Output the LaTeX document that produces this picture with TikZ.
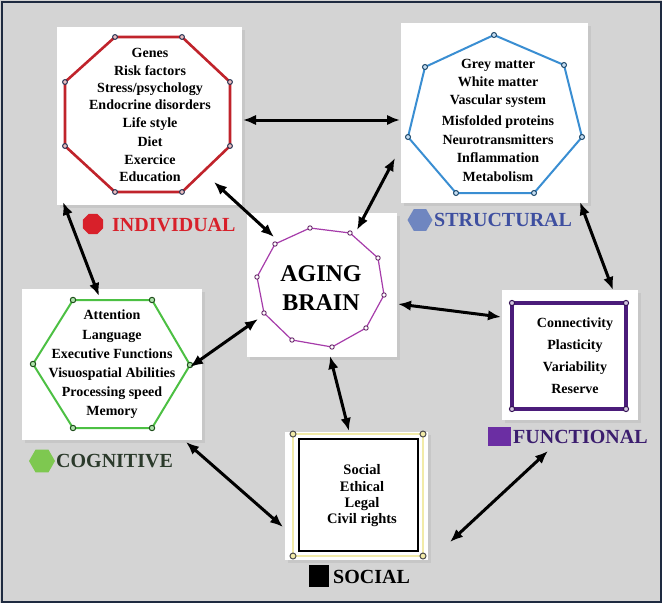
\documentclass[tikz,border=0pt]{standalone}
\usepackage{fontspec}
\setmainfont{Liberation Serif}
\usetikzlibrary{arrows.meta,shapes.geometric,shadows}
\definecolor{bg}{HTML}{D4D4D4}
\definecolor{framec}{HTML}{1E2A40}
\definecolor{indc}{HTML}{C0232B}
\definecolor{indl}{HTML}{D8202A}
\definecolor{strc}{HTML}{3A8ED2}
\definecolor{strl}{HTML}{3E4FA0}
\definecolor{stri}{HTML}{6F86C0}
\definecolor{agec}{HTML}{A63CAA}
\definecolor{cogc}{HTML}{4CC043}
\definecolor{cogi}{HTML}{7EC850}
\definecolor{cogl}{HTML}{2B3A2B}
\definecolor{func}{HTML}{4B1C7A}
\definecolor{funi}{HTML}{6B2EA3}
\definecolor{funl}{HTML}{3B1D6E}
\definecolor{socy}{HTML}{F2EBA8}
\definecolor{dotc}{HTML}{1F2F4F}
\begin{document}
\begin{tikzpicture}[x=1pt,y=-1pt,
  panel/.style={draw=none,fill=white,inner sep=0pt,
    drop shadow={shadow xshift=2.5pt,shadow yshift=-2.5pt,fill=black!22,opacity=1}},
  listtext/.style={align=center,inner sep=0pt,font=\bfseries\fontsize{14}{17.4}\selectfont},
  grouplabel/.style={anchor=west,inner sep=0pt,font=\bfseries\fontsize{20}{22}\selectfont},
  conn/.style={{Latex[length=13pt,width=10.5pt]}-{Latex[length=13pt,width=10.5pt]},line width=3pt,black},
  vdot/.style={draw=dotc,fill=white,line width=1pt},
]
\useasboundingbox (0,0) rectangle (662,603);
\fill[bg] (0,0) rectangle (662,603);
\draw[framec,line width=2pt] (1.5,1.5) rectangle (660.5,601.5);

% panels
\node[panel,minimum width=185pt,minimum height=178pt] (ind) at (149.5,116) {};
\node[panel,minimum width=187pt,minimum height=180pt] (str) at (494.5,113) {};
\node[panel,minimum width=150pt,minimum height=144pt] (age) at (322,285) {};
\node[panel,minimum width=180pt,minimum height=151pt] (cog) at (112,364.5) {};
\node[panel,minimum width=136pt,minimum height=130pt] (fun) at (570,355) {};
\node[panel,minimum width=143pt,minimum height=128pt] (soc) at (356.5,496) {};

% individual octagon
\draw[indc,line width=2.6pt,line join=round] (115,37)--(182,37)--(230,82)--(230,146)--(182,192)--(115,192)--(65,146)--(65,82)--cycle;
\foreach \p in {(115,37),(182,37),(230,82),(230,146),(182,192),(115,192),(65,146),(65,82)}
  \draw[vdot,fill=indc!30] \p circle (2.4pt);

% structural heptagon
\draw[strc,line width=2pt,line join=round] (494,35)--(564,65)--(582,137)--(534,193)--(456,193)--(408,137)--(425,67)--cycle;
\foreach \p in {(494,35),(564,65),(582,137),(534,193),(456,193),(408,137),(425,67)}
  \draw[vdot,draw=strc!50!black,fill=strc!30] \p circle (2.5pt);

% aging decagon
\draw[agec,line width=1.2pt,line join=round] (310,228)--(350,233)--(378,258)--(384,295)--(366,328)--(332,347)--(292,340)--(264,313)--(257,277)--(275,244)--cycle;
\foreach \p in {(310,228),(350,233),(378,258),(384,295),(366,328),(332,347),(292,340),(264,313),(257,277),(275,244)}
  \draw[vdot,draw=agec!60!black,line width=0.9pt] \p circle (2.2pt);

% cognitive hexagon
\draw[cogc,line width=2pt,line join=round] (73,300)--(152,300)--(190,365)--(152,428)--(73,428)--(33,364)--cycle;
\foreach \p in {(73,300),(152,300),(190,365),(152,428),(73,428),(33,364)}
  \draw[vdot,draw=cogc!40!black,fill=cogc!45] \p circle (2.7pt);

% functional square
\draw[func,line width=3.4pt] (512,303) rectangle (626,409);
\foreach \p in {(512,303),(626,303),(626,409),(512,409)}
  \draw[vdot,draw=func!70!black,fill=func!25] \p circle (2.6pt);

% social squares
\draw[socy,line width=2pt] (293,434) rectangle (423,556);
\draw[black,line width=2.6pt] (299,439) rectangle (418,551);
\foreach \p in {(293,434),(423,434),(423,556),(293,556)}
  \draw[vdot,draw=black!70,fill=socy] \p circle (3pt);

% texts
\node[listtext] (indt) at (150,115) {Genes\\Risk factors\\Stress/psychology\\Endocrine disorders\\Life style\\[2pt]Diet\\Exercice\\Education};
\node[listtext,font=\bfseries\fontsize{14}{18.4}\selectfont] (strt) at (498,120) {Grey matter\\White matter\\Vascular system\\[2.5pt]Misfolded proteins\\Neurotransmitters\\Inflammation\\Metabolism};
\node[listtext,font=\bfseries\fontsize{24}{29}\selectfont] (aget) at (321,288) {AGING\\BRAIN};
\node[listtext,font=\bfseries\fontsize{14}{19.2}\selectfont] (cogt) at (112,364.5) {Attention\\Language\\Executive Functions\\Visuospatial Abilities\\Processing speed\\Memory};
\node[listtext,font=\bfseries\fontsize{14}{22}\selectfont] (funt) at (575,356) {Connectivity\\Plasticity\\Variability\\Reserve};
\node[listtext,font=\bfseries\fontsize{14.5}{16.3}\selectfont] (soct) at (362,496) {Social\\Ethical\\Legal\\Civil rights};

% group labels
\node[regular polygon,regular polygon sides=8,fill=indl,minimum size=22pt,inner sep=0pt] (indi) at (93,224) {};
\node[grouplabel,text=indl] (indn) at (112,225) {INDIVIDUAL};
\node[regular polygon,regular polygon sides=6,fill=stri,minimum size=25pt,inner sep=0pt] (stri) at (420,220) {};
\node[grouplabel,text=strl] (strn) at (434,220) {STRUCTURAL};
\node[regular polygon,regular polygon sides=6,fill=cogi,minimum size=26pt,inner sep=0pt] (cogi) at (42,461) {};
\node[grouplabel,text=cogl] (cogn) at (56,461) {COGNITIVE};
\node[fill=funi,minimum width=23pt,minimum height=19pt,inner sep=0pt] (funi) at (499.5,436.5) {};
\node[grouplabel,text=funl] (funn) at (513,437) {FUNCTIONAL};
\node[fill=black,minimum width=20pt,minimum height=22pt,inner sep=0pt] (soci) at (319,576) {};
\node[grouplabel,text=black] (socn) at (333,577) {SOCIAL};

% connector end points
\coordinate (e1a) at (243,120);  \coordinate (e1b) at (400,120);
\coordinate (e2a) at (214,182);  \coordinate (e2b) at (274,237);
\coordinate (e3a) at (395,158);  \coordinate (e3b) at (357,230);
\coordinate (e4a) at (63,202);   \coordinate (e4b) at (99,296);
\coordinate (e5a) at (580,202);  \coordinate (e5b) at (613,290);
\coordinate (e6a) at (398,304);  \coordinate (e6b) at (501,317);
\coordinate (e7a) at (258,319);  \coordinate (e7b) at (190,367);
\coordinate (e8a) at (330,356);  \coordinate (e8b) at (349,431);
\coordinate (e9a) at (186,442);  \coordinate (e9b) at (283,527);
\coordinate (e10a) at (450,542); \coordinate (e10b) at (548,451);

\draw[conn] (e1a) -- (e1b);
\draw[conn] (e2a) -- (e2b);
\draw[conn] (e3a) -- (e3b);
\draw[conn] (e4a) -- (e4b);
\draw[conn] (e5a) -- (e5b);
\draw[conn] (e6a) -- (e6b);
\draw[conn] (e7a) -- (e7b);
\draw[conn] (e8a) -- (e8b);
\draw[conn] (e9a) -- (e9b);
\draw[conn] (e10a) -- (e10b);
\end{tikzpicture}
\end{document}
